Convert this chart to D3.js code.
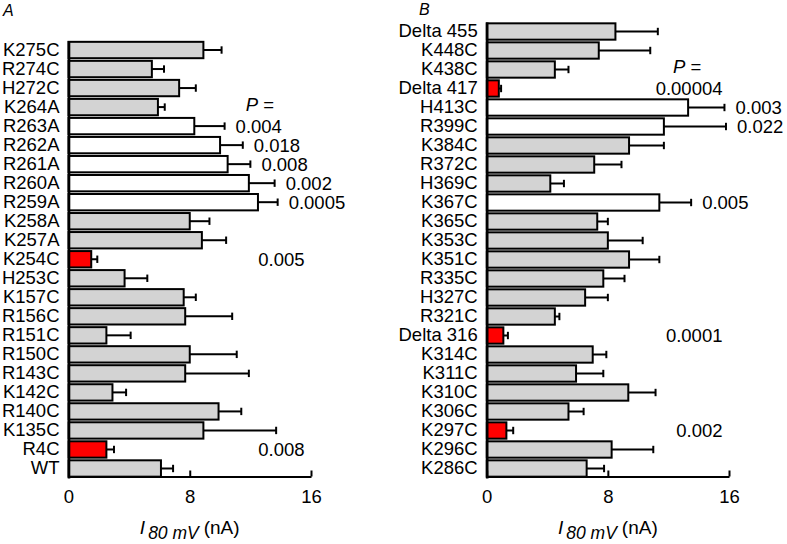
<!DOCTYPE html>
<html>
<head>
<meta charset="utf-8">
<script src="https://cdn.jsdelivr.net/npm/d3@7"></script>
<style>
  html, body { margin: 0; padding: 0; background: #fff; }
  svg { display: block; }
  text { font-family: "Liberation Sans", Arial, sans-serif; fill: #000; }
</style>
</head>
<body>
<svg id="chart" width="787" height="544"></svg>
<script>
// ---------- DATA ----------
// Panel A
const categoriesA = ["K275C","R274C","H272C","K264A","R263A","R262A","R261A","R260A","R259A","K258A","K257A","K254C","H253C","K157C","R156C","R151C","R150C","R143C","K142C","R140C","K135C","R4C","WT"];
const valuesA = [8.9, 5.5, 7.3, 5.9, 8.3, 10.0, 10.5, 11.9, 12.5, 8.0, 8.8, 1.5, 3.7, 7.6, 7.7, 2.5, 8.0, 7.7, 2.9, 9.9, 8.9, 2.5, 6.1];
const errorsA = [1.2, 0.8, 1.1, 0.45, 2.0, 1.5, 1.5, 1.7, 1.3, 1.3, 1.6, 0.4, 1.5, 0.8, 3.1, 1.6, 3.1, 4.2, 0.9, 1.5, 4.8, 0.5, 0.8];
// g = unchanged (grey), w = increased (white), r = decreased (red)
const typesA = ["g","g","g","g","w","w","w","w","w","g","g","r","g","g","g","g","g","g","g","g","g","r","g"];
const pValuesA = ["","","","","0.004","0.018","0.008","0.002","0.0005","","","0.005","","","","","","","","","","0.008",""];

// Panel B
const categoriesB = ["Delta 455","K448C","K438C","Delta 417","H413C","R399C","K384C","R372C","H369C","K367C","K365C","K353C","K351C","R335C","H327C","R321C","Delta 316","K314C","K311C","K310C","K306C","K297C","K296C","K286C"];
const valuesB = [8.5, 7.4, 4.5, 0.8, 13.3, 11.7, 9.4, 7.1, 4.2, 11.4, 7.3, 8.0, 9.4, 7.7, 6.5, 4.5, 1.1, 7.0, 5.9, 9.35, 5.4, 1.3, 8.25, 6.6];
const errorsB = [2.8, 3.4, 0.9, 0.15, 2.4, 4.1, 2.3, 1.8, 0.9, 2.1, 0.7, 2.3, 2.0, 1.4, 1.5, 0.3, 0.3, 0.9, 1.8, 1.8, 1.0, 0.45, 2.75, 1.15];
const typesB = ["g","g","g","r","w","w","g","g","g","w","g","g","g","g","g","g","r","g","g","g","g","r","g","g"];
const pValuesB = ["","","","0.00004","0.003","0.022","","","","0.005","","","","","","","0.0001","","","","","0.002","",""];

const xTicks = [0, 8, 16];
const xDomain = [0, 16];

// ---------- LAYOUT ----------
const FONT = 18.5;
const fills = { g: "#d3d3d3", w: "#ffffff", r: "#ff0000" };
const svg = d3.select("#chart");
svg.append("rect").attr("width", 787).attr("height", 544).attr("fill", "#fff");

const panels = [
  { letter: "A", letterX: 3, letterY: 16,
    cats: categoriesA, vals: valuesA, errs: errorsA, types: typesA, pv: pValuesA,
    x0: 68.5, x1: 311, top: 40.5, headerRow: "K264A", headerX: 11.7 },
  { letter: "B", letterX: 419, letterY: 15,
    cats: categoriesB, vals: valuesB, errs: errorsB, types: typesB, pv: pValuesB,
    x0: 486.7, x1: 729, top: 22, headerRow: "K438C", headerX: 12.3 }
];
const bottom = 478;
const axisY = 476.5;

panels.forEach(p => {
  const g = svg.append("g");
  const x = d3.scaleLinear().domain(xDomain).range([p.x0, p.x1]);
  const y = d3.scaleBand().domain(p.cats).range([p.top, bottom])
    .paddingInner(0.14).paddingOuter(0.07);
  const rows = p.cats.map((c, i) => ({ c, v: p.vals[i], e: p.errs[i], t: p.types[i], pv: p.pv[i] }));

  // error bars
  const eb = g.append("g").attr("stroke", "#000").attr("stroke-width", 2).attr("fill", "none");
  rows.forEach(d => {
    const cy = y(d.c) + y.bandwidth() / 2;
    eb.append("line").attr("x1", x(d.v)).attr("x2", x(d.v + d.e)).attr("y1", cy).attr("y2", cy);
    eb.append("line").attr("x1", x(d.v + d.e)).attr("x2", x(d.v + d.e)).attr("y1", cy - 3.7).attr("y2", cy + 3.7);
  });

  // bars
  g.append("g").selectAll("rect").data(rows).join("rect")
    .attr("x", x(0))
    .attr("y", d => y(d.c))
    .attr("width", d => x(d.v) - x(0))
    .attr("height", y.bandwidth())
    .attr("fill", d => fills[d.t])
    .attr("stroke", "#000")
    .attr("stroke-width", 2);

  // y axis
  const ya = g.append("g").attr("transform", `translate(${p.x0},0)`)
    .call(d3.axisLeft(y).tickSize(0).tickPadding(9));
  ya.select(".domain").attr("stroke-width", 2.6);
  ya.selectAll("text").attr("font-size", FONT).attr("font-family", "Liberation Sans, Arial, sans-serif");

  // x axis
  const xa = g.append("g").attr("transform", `translate(0,${axisY})`)
    .call(d3.axisBottom(x).tickValues(xTicks).tickSizeInner(-6).tickSizeOuter(0).tickPadding(13));
  xa.select(".domain").attr("stroke-width", 2);
  xa.selectAll(".tick line").attr("stroke-width", 2);
  xa.selectAll("text").attr("font-size", FONT).attr("font-family", "Liberation Sans, Arial, sans-serif");

  // x axis title
  const cx = x(8);
  const title = g.append("text").attr("x", cx).attr("y", 533.5).attr("text-anchor", "middle").attr("font-size", 19);
  title.append("tspan").attr("font-style", "italic").text("I");
  title.append("tspan").attr("font-style", "italic").attr("font-size", 17.5).attr("dy", 5).attr("dx", 3).text("80 mV");
  title.append("tspan").attr("dy", -5).attr("dx", 5).text("(nA)");

  // panel letter
  g.append("text").attr("x", p.letterX).attr("y", p.letterY).attr("font-size", 16)
    .attr("font-style", "italic").text(p.letter);

  // P = header
  const hy = y(p.headerRow) + y.bandwidth() / 2 + 6.6 - 3;
  const h = g.append("text").attr("x", x(p.headerX)).attr("y", hy).attr("font-size", FONT);
  h.append("tspan").attr("font-style", "italic").text("P");
  h.append("tspan").text(" =");

  // p-values
  rows.filter(d => d.pv).forEach(d => {
    const cy = y(d.c) + y.bandwidth() / 2 + 6.6;
    const t = g.append("text").attr("y", cy).attr("font-size", FONT).text(d.pv);
    if (d.t === "w") t.attr("x", x(d.v + d.e) + 11).attr("text-anchor", "start");
    else t.attr("x", x(16) - 6.5).attr("text-anchor", "end");
  });
});
</script>
</body>
</html>
